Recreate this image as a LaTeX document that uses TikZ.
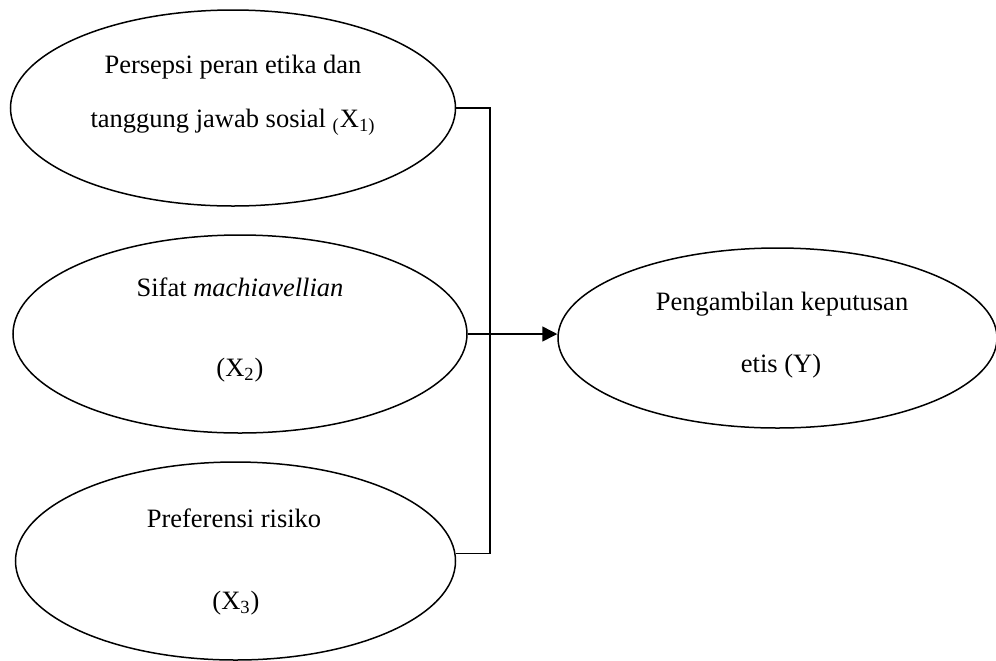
\documentclass[tikz,border=0pt]{standalone}
\usepackage{fontspec}
\setmainfont{Liberation Serif}
\usetikzlibrary{arrows.meta,calc,positioning,shapes.geometric}
\definecolor{ink}{HTML}{000000}
\tikzset{
  >={Triangle[length=7.5pt,width=7.5pt]},
  varbox/.style={draw=ink,ellipse,line width=0.75pt,inner sep=0pt},
  vartext/.style={text=ink,inner sep=0pt,font=\fontsize{13.25}{15}\selectfont},
  link/.style={draw=ink,line width=0.75pt},
  arrow/.style={->,line width=0.75pt,draw=ink}
}

\begin{document}
\begin{tikzpicture}[x=0.5pt,y=-0.5pt,line cap=butt,line join=miter]
  \useasboundingbox (0,0) rectangle (996,660);

  % Independent variables
  \node[varbox,minimum width=222.5pt,minimum height=98pt] (x1) at (233,108) {};
  \node[vartext] (x1a) at (233,67) {Persepsi peran etika dan};
  \node[vartext] (x1b) at (233,122)
    {tanggung jawab sosial \textsubscript{(}X\textsubscript{1)}};

  \node[varbox,minimum width=227pt,minimum height=99pt] (x2) at (240,334) {};
  \node[vartext] (x2a) at (240,287) {Sifat \textit{machiavellian}};
  \node[vartext] (x2b) at (240,370) {(X\textsubscript{2})};

  \node[varbox,minimum width=220pt,minimum height=99pt] (x3) at (235.5,561) {};
  \node[vartext] (x3a) at (234,518) {Preferensi risiko};
  \node[vartext] (x3b) at (236,603) {(X\textsubscript{3})};

  % Dependent variable
  \node[varbox,minimum width=219.5pt,minimum height=90pt] (y) at (777.5,338) {};
  \node[vartext] (ya) at (782,304) {Pengambilan keputusan};
  \node[vartext] (yb) at (781,366) {etis (Y)};

  % Connectors
  \coordinate (join) at (490,334);
  \draw[link] (x1.east) -| (join);
  \draw[link] (x3.2) -| (join);
  \draw[arrow] (x2.east) -- (x2.east -| y.west);
\end{tikzpicture}
\end{document}
